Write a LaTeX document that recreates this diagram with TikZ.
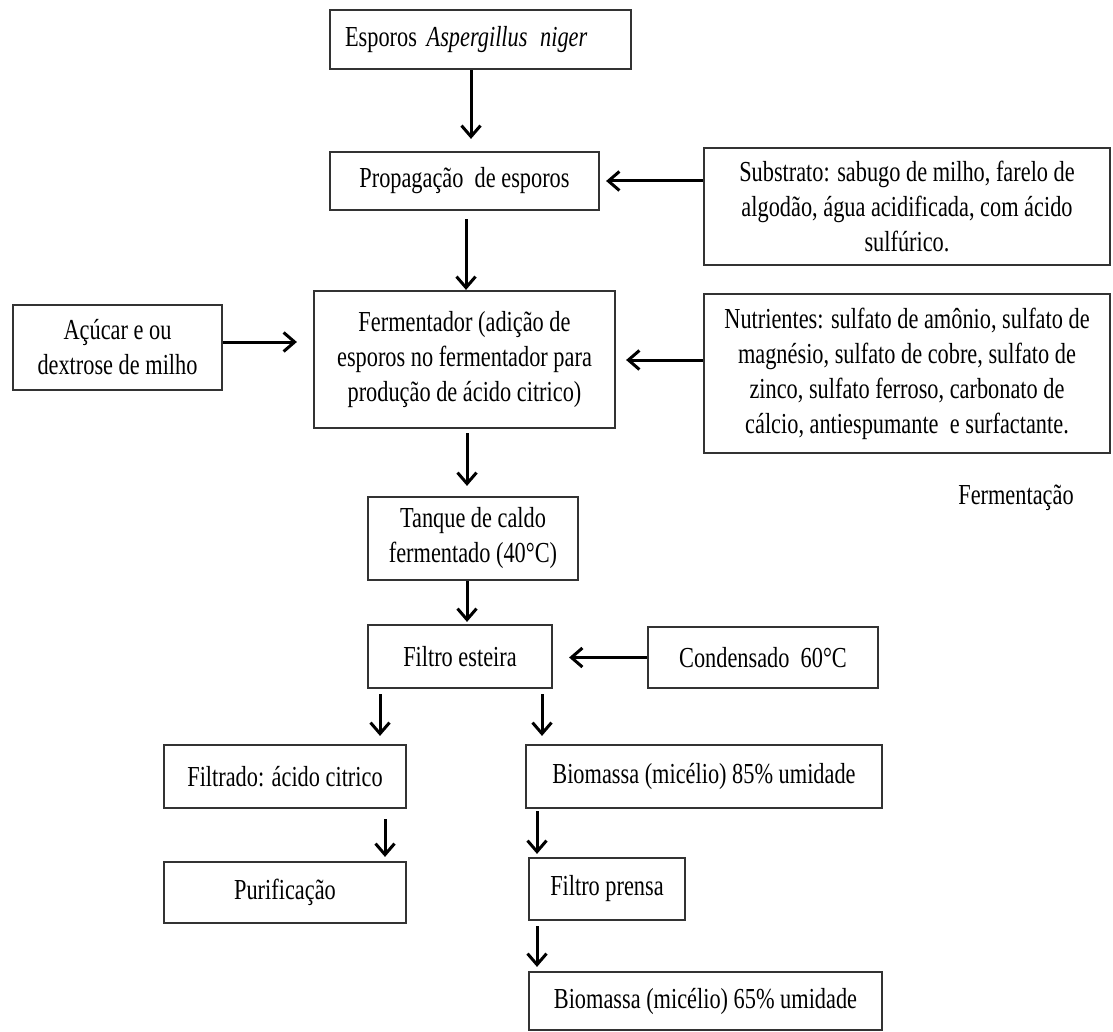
\documentclass[tikz,border=0pt]{standalone}
\usepackage{fontspec}
\setmainfont{Liberation Serif}[FakeStretch=0.77]
\usetikzlibrary{arrows.meta}
\begin{document}
\begin{tikzpicture}[x=1pt,y=-1pt,
  box/.style={draw=black!80, line width=2.2pt, inner sep=0pt, align=center,
    font=\fontsize{29}{35}\selectfont},
  lbl/.style={inner sep=0pt, font=\fontsize{29}{35}\selectfont},
  arr/.style={draw=black, line width=3pt,
    -{Straight Barb[length=11pt,width=19pt,line width=3pt]}},
]
\useasboundingbox[fill=white] (0,0) rectangle (1113,1032);

\node[box, minimum width=301pt, minimum height=59pt, text width=271pt, inner xsep=15pt, align=left]
  (esp) at (480.5,39.5) {Esporos \textit{Aspergillus\hspace{3pt} niger}};
\node[box, minimum width=269pt, minimum height=58pt] (prop) at (464.5,181) {Propagação\ \ de esporos};
\node[box, minimum width=406pt, minimum height=117pt] (sub) at (907,206.5)
  {Substrato: sabugo de milho, farelo de\\algodão, água acidificada, com ácido\\sulfúrico.};
\node[box, minimum width=301pt, minimum height=137pt] (ferm) at (464.5,359.5)
  {Fermentador (adição de\\esporos no fermentador para\\produção de ácido citrico)};
\node[box, minimum width=209pt, minimum height=85pt] (acu) at (117.5,347.5)
  {Açúcar e ou\\dextrose de milho};
\node[box, minimum width=406pt, minimum height=159pt] (nut) at (907,373.5)
  {Nutrientes: sulfato de amônio, sulfato de\\magnésio, sulfato de cobre, sulfato de\\zinco, sulfato ferroso, carbonato de\\cálcio, antiespumante\ \ e surfactante.};
\node[lbl] (fermlbl) at (1016,498) {Fermentação};
\node[box, minimum width=210pt, minimum height=83pt] (tanq) at (473,538.5)
  {Tanque de caldo\\fermentado (40°C)};
\node[box, minimum width=184pt, minimum height=63pt] (filt) at (460,656.5) {Filtro esteira};
\node[box, minimum width=230pt, minimum height=61pt] (cond) at (763,657.5) {Condensado\ \ 60°C};
\node[box, minimum width=242pt, minimum height=63pt] (filtrado) at (285,776.5) {Filtrado: ácido citrico};
\node[box, minimum width=242pt, minimum height=61pt] (puri) at (285,892.5) {Purificação};
\node[box, minimum width=356pt, minimum height=63pt] (bio85) at (704,776.5) {Biomassa (micélio) 85\% umidade};
\node[box, minimum width=156pt, minimum height=62pt] (prensa) at (607,889) {Filtro prensa};
\node[box, minimum width=353pt, minimum height=58pt] (bio65) at (705.5,1001) {Biomassa (micélio) 65\% umidade};

\draw[arr, shorten >=12pt] ([xshift=-9.5pt]esp.south) -- ([xshift=-9.5pt]esp.south |- prop.north);
\draw[arr, shorten <=8pt] ([xshift=1.5pt]prop.south) -- ([xshift=1.5pt]prop.south |- ferm.north);
\draw[arr, shorten >=6pt] (sub.west |- prop.east) -- (prop.east);
\draw[arr, shorten >=16pt] ([yshift=5.5pt]acu.east) -- ([yshift=5.5pt]acu.east -| ferm.west);
\draw[arr, shorten >=10pt] ([yshift=13.5pt]nut.west) -- ([yshift=13.5pt]nut.west -| ferm.east);
\draw[arr, shorten <=4pt, shorten >=10pt] ([xshift=2.5pt]ferm.south) -- ([xshift=2.5pt]ferm.south |- tanq.north);
\draw[arr, shorten >=2pt] ([xshift=-6pt]tanq.south) -- ([xshift=-6pt]tanq.south |- filt.north);
\draw[arr, shorten >=16pt] (cond.west) -- (cond.west -| filt.east);
\draw[arr, shorten <=5pt, shorten >=8pt] ([xshift=-80pt]filt.south) -- ([xshift=-80pt]filt.south |- filtrado.north);
\draw[arr, shorten <=5pt, shorten >=8pt] ([xshift=82pt]filt.south) -- ([xshift=82pt]filt.south |- bio85.north);
\draw[arr, shorten <=10pt, shorten >=4pt] ([xshift=100pt]filtrado.south) -- ([xshift=100pt]filtrado.south |- puri.north);
\draw[arr, shorten <=2pt, shorten >=3pt] ([xshift=-167pt]bio85.south) -- ([xshift=-167pt]bio85.south |- prensa.north);
\draw[arr, shorten <=5pt, shorten >=4pt] ([xshift=-70pt]prensa.south) -- ([xshift=-70pt]prensa.south |- bio65.north);
\end{tikzpicture}
\end{document}
